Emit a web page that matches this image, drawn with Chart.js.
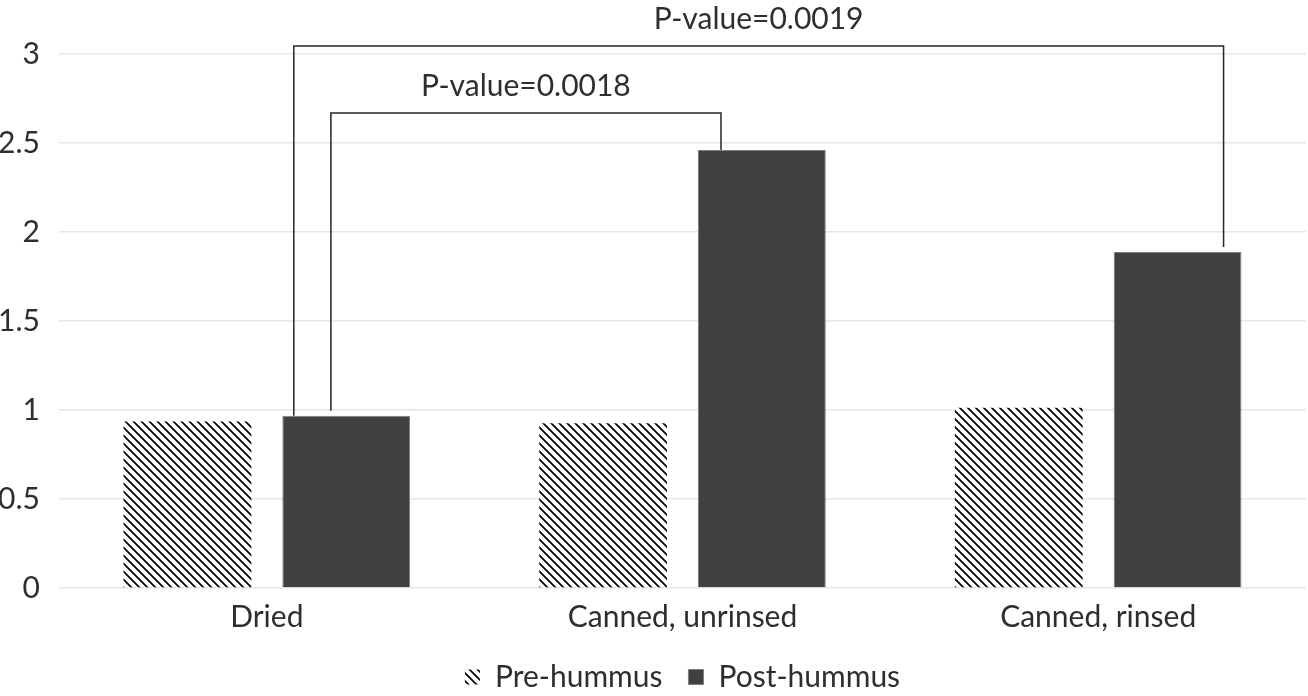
<!DOCTYPE html>
<html>
<head>
<meta charset="utf-8">
<script src="https://cdn.jsdelivr.net/npm/chart.js@4"></script>
<style>
  html, body { margin: 0; padding: 0; background: #fff; }
  #wrap { width: 1308px; height: 696px; }
</style>
</head>
<body>
<div id="wrap"><canvas id="c"></canvas></div>
<script>
const categories = ['Dried', 'Canned, unrinsed', 'Canned, rinsed'];
const preHummus = [0.935, 0.925, 1.013];
const postHummus = [0.968, 2.46, 1.887];
const yTicks = [0, 0.5, 1, 1.5, 2, 2.5, 3];

// significance brackets: compare post-hummus bars
const bracketFrom = [0, 0];
const bracketTo = [1, 2];
const bracketTop = [2.668, 3.045];
const bracketLabels = ['P-value=0.0018', 'P-value=0.0019'];

const FONT = 'Lato, "Open Sans", sans-serif';
const TEXT = '#2e2e2e';
const FS = 30;

function hatchPattern() {
  const s = 8;
  const c = document.createElement('canvas');
  c.width = s; c.height = s;
  const g = c.getContext('2d');
  g.fillStyle = '#fff';
  g.fillRect(0, 0, s, s);
  g.strokeStyle = '#000';
  g.lineWidth = 1.7;
  g.beginPath();
  g.moveTo(-1, -1); g.lineTo(s + 1, s + 1);
  g.moveTo(s - 1, -1); g.lineTo(s + 1, 1);
  g.moveTo(-1, s - 1); g.lineTo(1, s + 1);
  g.stroke();
  return g.createPattern(c, 'repeat');
}

// where each bracket leg sits on its bar (fraction of bar width) and gap above bar top
const legSpots = [
  { l: 0.38, r: 0.18, gl: 5, gr: 0, dx: 0 },
  { l: 0.09, r: 0.86, gl: 0, gr: 5, dx: 0 }
];

const bracketPlugin = {
  id: 'brackets',
  afterDatasetsDraw(chart) {
    const ctx = chart.ctx;
    const y = chart.scales.y;
    const bars = chart.getDatasetMeta(1).data;
    ctx.save();
    ctx.strokeStyle = '#262626';
    ctx.lineWidth = 1.5;
    ctx.fillStyle = TEXT;
    ctx.font = FS + 'px ' + FONT;
    ctx.textAlign = 'center';
    ctx.textBaseline = 'middle';
    bracketFrom.forEach((f, i) => {
      const a = bars[f], b = bars[bracketTo[i]];
      const s = legSpots[i];
      const x1 = a.x - a.width / 2 + a.width * s.l;
      const x2 = b.x - b.width / 2 + b.width * s.r;
      const yt = y.getPixelForValue(bracketTop[i]);
      ctx.beginPath();
      ctx.moveTo(x1, a.y - s.gl);
      ctx.lineTo(x1, yt);
      ctx.lineTo(x2, yt);
      ctx.lineTo(x2, b.y - s.gr);
      ctx.stroke();
      ctx.fillText(bracketLabels[i], (x1 + x2) / 2 + s.dx, yt - 27);
    });
    ctx.restore();
  }
};

new Chart(document.getElementById('c'), {
  type: 'bar',
  data: {
    labels: categories,
    datasets: [
      {
        label: 'Pre-hummus',
        data: preHummus,
        backgroundColor: hatchPattern(),
        borderWidth: 0,
        categoryPercentage: 0.764,
        barPercentage: 0.805
      },
      {
        label: 'Post-hummus',
        data: postHummus,
        backgroundColor: '#404040',
        borderColor: '#7f7f7f',
        borderWidth: 1,
        categoryPercentage: 0.764,
        barPercentage: 0.805
      }
    ]
  },
  options: {
    responsive: true,
    maintainAspectRatio: false,
    animation: false,
    layout: { padding: { top: 54, right: 2, left: 0, bottom: -6 } },
    plugins: {
      tooltip: { enabled: false },
      legend: {
        position: 'bottom',
        fullSize: false,
        labels: {
          color: TEXT,
          font: { family: FONT, size: FS },
          boxWidth: 15,
          boxHeight: 15,
          padding: 26
        }
      }
    },
    scales: {
      x: {
        grid: { display: false },
        border: { display: false },
        ticks: { color: TEXT, font: { family: FONT, size: FS }, padding: 3 },
        afterFit: (s) => { s.height = 48; }
      },
      y: {
        min: 0,
        max: 3,
        afterBuildTicks: (s) => { s.ticks = yTicks.map(v => ({ value: v })); },
        grid: { color: '#e6e6e6', lineWidth: 1.5, drawTicks: false },
        border: { display: false },
        ticks: { color: TEXT, font: { family: FONT, size: FS }, padding: 19, callback: (v) => String(v) },
        afterFit: (s) => { s.width = 59; }
      }
    }
  },
  plugins: [bracketPlugin]
});
</script>
</body>
</html>
